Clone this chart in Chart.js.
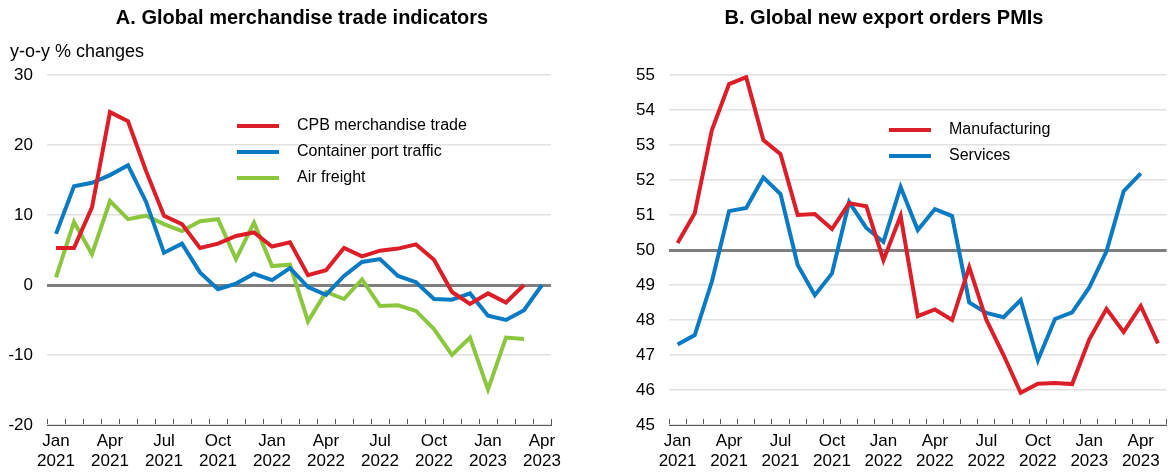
<!DOCTYPE html>
<html>
<head>
    <meta charset="utf-8">
    <title>Global trade indicators and export orders</title>
    <script src="https://cdn.jsdelivr.net/npm/chart.js"></script>
    <style>
        body {
            margin: 0;
            padding: 0;
            background: #fff;
            font-family: "Liberation Sans", Arial, sans-serif;
            color: #000;
        }
        .wrap { position: relative; width: 1170px; height: 472px; overflow: hidden; }
        .panel { position: absolute; top: 0; width: 585px; height: 472px; }
        .title {
            position: absolute; top: 6px; font-size: 20px; font-weight: bold;
            white-space: nowrap; transform: translateX(-50%);
        }
        .unit { position: absolute; left: 10px; top: 41px; font-size: 18px; }
        .legend { position: absolute; font-size: 16px; }
        .legend div { position: relative; height: 26px; line-height: 26px; white-space: nowrap; }
        .legend span.ln { display: inline-block; width: 42px; height: 4px; vertical-align: middle; margin-right: 18px; }
    </style>
</head>
<body>
<div class="wrap">
    <div class="panel" style="left:0"><canvas id="chartA" width="585" height="472"></canvas></div>
    <div class="panel" style="left:585px"><canvas id="chartB" width="585" height="472"></canvas></div>

    <div class="title" style="left:302px">A. Global merchandise trade indicators</div>
    <div class="title" style="left:884px">B. Global new export orders PMIs</div>
    <div class="unit">y-o-y % changes</div>

    <div class="legend" style="left:237px; top:112px">
        <div><span class="ln" style="background:#dc1e28"></span>CPB merchandise trade</div>
        <div><span class="ln" style="background:#0a7bc3"></span>Container port traffic</div>
        <div><span class="ln" style="background:#8cc63f"></span>Air freight</div>
    </div>
    <div class="legend" style="left:889px; top:116px">
        <div><span class="ln" style="background:#dc1e28"></span>Manufacturing</div>
        <div><span class="ln" style="background:#0a7bc3"></span>Services</div>
    </div>
</div>

<script>
    // Panel A - monthly, Jan 2021 to Apr 2023
    const monthsA = ['Jan 2021', 'Feb 2021', 'Mar 2021', 'Apr 2021', 'May 2021', 'Jun 2021', 'Jul 2021', 'Aug 2021',
        'Sep 2021', 'Oct 2021', 'Nov 2021', 'Dec 2021', 'Jan 2022', 'Feb 2022', 'Mar 2022', 'Apr 2022', 'May 2022',
        'Jun 2022', 'Jul 2022', 'Aug 2022', 'Sep 2022', 'Oct 2022', 'Nov 2022', 'Dec 2022', 'Jan 2023', 'Feb 2023',
        'Mar 2023', 'Apr 2023'];
    const cpbTrade = [5.3, 5.3, 11.1, 24.7, 23.4, 16.3, 9.9, 8.7, 5.3, 5.9, 7.0, 7.5, 5.5, 6.1, 1.4, 2.1, 5.3, 4.1,
        4.9, 5.2, 5.8, 3.6, -1.0, -2.7, -1.2, -2.5, 0.0, null];
    const containerPort = [7.3, 14.1, 14.6, 15.7, 17.1, 11.9, 4.6, 5.9, 1.8, -0.6, 0.2, 1.6, 0.7, 2.4, -0.3, -1.4,
        1.3, 3.3, 3.7, 1.3, 0.4, -2.0, -2.1, -1.2, -4.4, -5.0, -3.6, 0.0];
    const airFreight = [1.1, 9.0, 4.4, 12.0, 9.4, 9.9, 8.7, 7.7, 9.1, 9.4, 3.7, 8.9, 2.7, 2.9, -5.2, -1.0, -2.0, 0.8,
        -3.0, -2.9, -3.7, -6.3, -10.0, -7.5, -14.9, -7.5, -7.7, null];

    // Panel B - monthly, Jan 2021 to May 2023
    const monthsB = monthsA.concat(['May 2023']);
    const manufacturing = [50.2, 51.05, 53.43, 54.74, 54.94, 53.14, 52.74, 51.0, 51.03, 50.6, 51.34, 51.25, 49.71,
        50.98, 48.11, 48.3, 48.0, 49.51, 48.0, 47.0, 45.92, 46.18, 46.2, 46.17, 47.45, 48.32, 47.66, 48.4, 47.33];
    const services = [47.3, 47.57, 49.1, 51.11, 51.2, 52.07, 51.6, 49.57, 48.71, 49.33, 51.37, 50.63, 50.23, 51.8,
        50.57, 51.17, 50.97, 48.5, 48.2, 48.08, 48.57, 46.85, 48.03, 48.22, 48.93, 49.96, 51.68, 52.19];

    const RED = '#dc1e28', BLUE = '#0a7bc3', GREEN = '#8cc63f';
    const FONT = "'Liberation Sans', Arial, sans-serif";

    function line(label, data, color) {
        return { label, data, borderColor: color, backgroundColor: color, borderWidth: 4,
            pointRadius: 0, tension: 0, fill: false, spanGaps: false };
    }

    function makeChart(id, labels, datasets, yMin, yMax, step, refLine, yWidth, padRight) {
        return new Chart(document.getElementById(id), {
            type: 'line',
            data: { labels, datasets },
            options: {
                responsive: false,
                animation: false,
                layout: { padding: { top: 75, right: padRight, left: 0, bottom: 0 } },
                plugins: { legend: { display: false }, tooltip: { enabled: false } },
                scales: {
                    x: {
                        offset: true,
                        grid: { drawOnChartArea: false, offset: true, tickLength: -6, color: '#555', lineWidth: 1 },
                        border: { display: true, color: '#555', width: 1 },
                        ticks: {
                            autoSkip: false, maxRotation: 0, padding: 12, color: '#000',
                            font: { family: FONT, size: 17 },
                            callback: function (v, i) {
                                const m = labels[i].split(' ');
                                return ['Jan', 'Apr', 'Jul', 'Oct'].includes(m[0]) ? m : '';
                            }
                        },
                        afterFit: s => { s.height = 47; }
                    },
                    y: {
                        min: yMin, max: yMax,
                        border: { display: false },
                        grid: {
                            drawTicks: false,
                            color: c => c.tick.value === refLine ? '#7f7f7f' : '#e1e1e1',
                            lineWidth: c => c.tick.value === refLine ? 3 : 1.5
                        },
                        ticks: { stepSize: step, padding: 14, color: '#000', font: { family: FONT, size: 17 } },
                        afterFit: s => { s.width = yWidth; }
                    }
                }
            }
        });
    }

    makeChart('chartA', monthsA, [
        line('CPB merchandise trade', cpbTrade, RED),
        line('Container port traffic', containerPort, BLUE),
        line('Air freight', airFreight, GREEN)
    ], -20, 30, 10, 0, 47, 34);

    makeChart('chartB', monthsB, [
        line('Manufacturing', manufacturing, RED),
        line('Services', services, BLUE)
    ], 45, 55, 1, 50, 84, 3);
</script>
</body>
</html>
